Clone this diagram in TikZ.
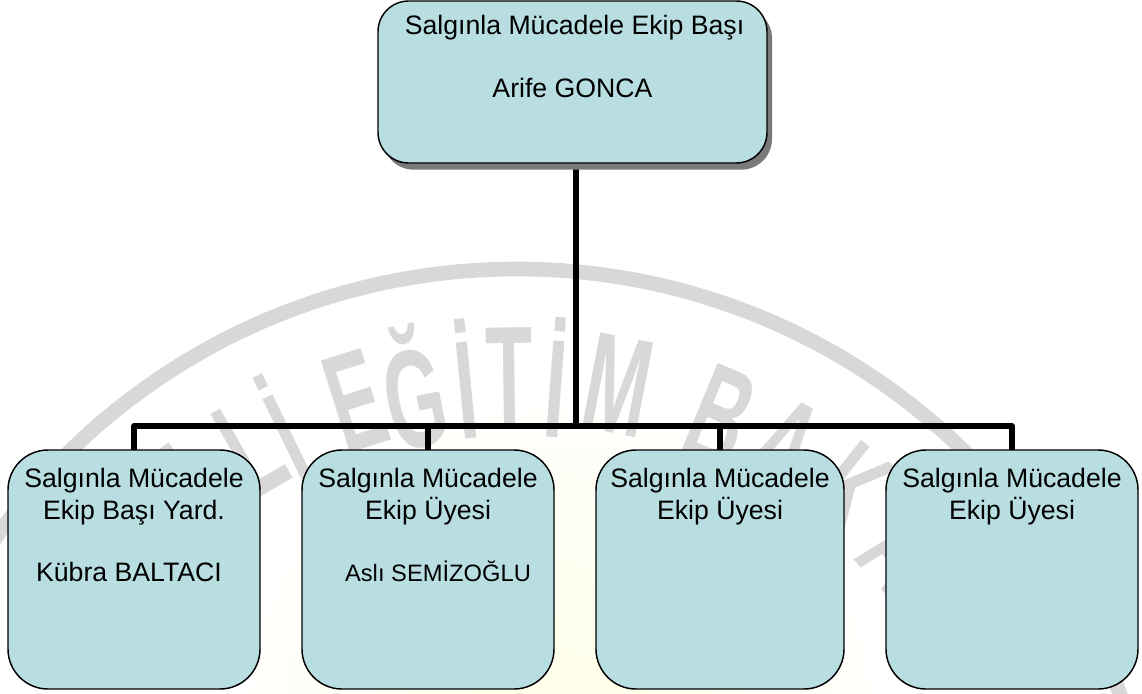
\documentclass[tikz,border=0pt]{standalone}
\usepackage{fontspec}
\setmainfont{Liberation Sans}
\usetikzlibrary{shadows,backgrounds}
\definecolor{boxfill}{HTML}{B9DEE2}
\definecolor{wmgray}{HTML}{D8D8D8}
\newcommand{\bodyfont}{\fontsize{20pt}{23.4pt}\selectfont}
\newcommand{\smallname}{\fontsize{17.8pt}{23.4pt}\selectfont}
\newcommand{\wmletter}[1]{\scalebox{0.55}[1]{\fontsize{105pt}{105pt}\bfseries\selectfont #1}}
\tikzset{
  x=0.75pt,y=-0.75pt,
  orgbox/.style={draw=black,line width=1.1pt,fill=boxfill,rounded corners=30pt,inner sep=0pt,outer sep=0pt,font=\bodyfont},
  headbox/.style={orgbox,rounded corners=23pt,drop shadow={shadow xshift=3.75pt,shadow yshift=-5pt,fill=black!52,opacity=1}},
  link/.style={draw=black,line width=4.2pt,line cap=butt,line join=round},
  trunk/.style={draw=black,line width=5.2pt,line cap=butt},
  wmark/.style={text=wmgray,inner sep=0pt},
}
\begin{document}
\begin{tikzpicture}
\useasboundingbox (0,0) rectangle (1142,693);
\node[headbox,minimum width=291.75pt,minimum height=121.5pt] (head) at (572.5,82) {\parbox[c][121.5pt][t]{285pt}{\centering\vspace{11pt}\hspace*{3pt}Salgınla Mücadele Ekip Başı\\[23.4pt]Arife GONCA}};
\node[orgbox,minimum width=189pt,minimum height=179.25pt] (b1) at (134,569.5) {\parbox[c][179.25pt][t]{185pt}{\centering\vspace{14pt}Salgınla Mücadele\\Ekip Başı Yard.\\[23.4pt]Kübra BALTACI\hspace*{7.5pt}}};
\node[orgbox,minimum width=189pt,minimum height=179.25pt] (b2) at (428,569.5) {\parbox[c][179.25pt][t]{185pt}{\centering\vspace{14pt}Salgınla Mücadele\\Ekip Üyesi\\[23.4pt]\hspace*{15pt}{\smallname Aslı SEMİZOĞLU}}};
\node[orgbox,minimum width=186pt,minimum height=179.25pt] (b3) at (720,569.5) {\parbox[c][179.25pt][t]{182pt}{\centering\vspace{14pt}Salgınla Mücadele\\Ekip Üyesi}};
\node[orgbox,minimum width=189pt,minimum height=179.25pt] (b4) at (1012,569.5) {\parbox[c][179.25pt][t]{185pt}{\centering\vspace{14pt}Salgınla Mücadele\\Ekip Üyesi}};
\coordinate (bus) at (576,426);
\begin{scope}[on background layer]
  \fill[white] (0,0) rectangle (1142,693);
  \begin{scope}
    \clip (0,0) rectangle (1142,693);
    \shade[inner color=yellow!9,outer color=white,draw=none] (560,720) circle (260pt);
    \node[circle,draw=wmgray,line width=11pt,minimum size=960pt,inner sep=0pt] (ring) at (517,909) {};
    \foreach \ch/\ang/\id in {L/-36/b,L/-30/a,İ/-26/c,E/-17.6/d,Ğ/-11.3/e,İ/-5.6/f,T/-0.8/g,İ/4.3/h,M/10.9/i,B/22.5/j,A/30/k,K/38.5/l,A/47/m}{
      \pgfmathsetmacro{\px}{517+533*sin(\ang)}
      \pgfmathsetmacro{\py}{909-533*cos(\ang)}
      \node[wmark,rotate=-\ang] (wm\id) at (\px,\py) {\wmletter{\ch}};
    }
  \end{scope}
  \draw[trunk] (head.south -| bus) -- (bus);
  \draw[link] (b1.north) |- (bus) -| (b4.north);
  \draw[trunk] (b2.north |- bus) -- (b3.north |- bus);
  \draw[link] (b2.north) -- (b2.north |- bus);
  \draw[link] (b3.north) -- (b3.north |- bus);
\end{scope}
\end{tikzpicture}
\end{document}
